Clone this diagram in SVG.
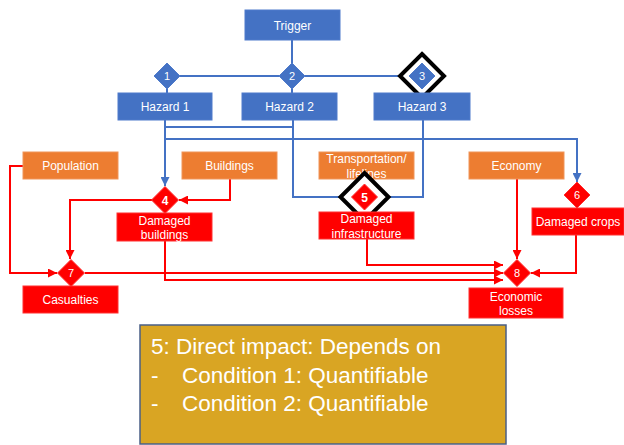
<svg xmlns="http://www.w3.org/2000/svg" width="624" height="445" viewBox="0 0 624 445">
  <defs>
    <style>
      .blue { fill: #4472C4; stroke: #4F7BCB; stroke-width: 1; }
      .orange { fill: #ED7D31; stroke: #F0955A; stroke-width: 1; }
      .red { fill: #FF0000; stroke: #FF3030; stroke-width: 1; }
      .lbl { font-family: "Liberation Sans", Arial, sans-serif; font-size: 12px; fill: #FFFFFF; text-anchor: middle; }
      .num { font-family: "Liberation Sans", Arial, sans-serif; font-size: 11px; fill: #FFFFFF; text-anchor: middle; }
      .bnum { font-family: "Liberation Sans", Arial, sans-serif; font-size: 12px; font-weight: bold; fill: #FFFFFF; text-anchor: middle; }
      .halo { fill: #FFFFFF; stroke: #000000; stroke-width: 4; }
      .bl { fill: none; stroke: #4472C4; stroke-width: 2; }
      .rl { fill: none; stroke: #FF0000; stroke-width: 2; }
      .note { font-family: "Liberation Sans", Arial, sans-serif; font-size: 22.5px; fill: #FFFFFF; }
    </style>
    <marker id="arrB" markerUnits="userSpaceOnUse" markerWidth="9" markerHeight="9" viewBox="0 0 10 10" refX="10" refY="5" orient="auto">
      <path d="M0,0 L10,5 L0,10 z" fill="#4472C4"/>
    </marker>
    <marker id="arrR" markerUnits="userSpaceOnUse" markerWidth="9" markerHeight="9" viewBox="0 0 10 10" refX="10" refY="5" orient="auto">
      <path d="M0,0 L10,5 L0,10 z" fill="#FF0000"/>
    </marker>
  </defs>

  <!-- connectors -->
  <g id="connectors">
    <path class="bl" d="M292,40 V76"/>
    <path class="bl" d="M167,76 H422"/>
    <path class="bl" d="M167,76 V93 M292,76 V93 M422,76 V93"/>
    <path class="bl" d="M165,120 V186" marker-end="url(#arrB)"/>
    <path class="bl" d="M165,127 H293"/>
    <path class="bl" d="M293,120 V197 H342"/>
    <path class="bl" d="M165,139 H577 V182" marker-end="url(#arrB)"/>
    <path class="bl" d="M423,120 V197 H387"/>

    <path class="rl" d="M23,166 H10 V273 H57" marker-end="url(#arrR)"/>
    <path class="rl" d="M230,179 V200 H179" marker-end="url(#arrR)"/>
    <path class="rl" d="M152,200 H70 V259" marker-end="url(#arrR)"/>
    <path class="rl" d="M85,273 H503" marker-end="url(#arrR)"/>
    <path class="rl" d="M165,241 V280 H503" marker-end="url(#arrR)"/>
    <path class="rl" d="M367,239 V265 H503" marker-end="url(#arrR)"/>
    <path class="rl" d="M517,179 V259" marker-end="url(#arrR)"/>
    <path class="rl" d="M576,235 V273 H531" marker-end="url(#arrR)"/>
  </g>

  <!-- hazard chain -->
  <g id="trigger">
    <rect class="blue" x="245" y="10" width="95" height="30"/>
    <text class="lbl" x="292.5" y="29.5">Trigger</text>
  </g>
  <g id="d1">
    <path class="blue" d="M167,63 L180,76 L167,89 L154,76 z"/>
    <text class="num" x="167" y="80">1</text>
  </g>
  <g id="d2">
    <path class="blue" d="M292,63 L305,76 L292,89 L279,76 z"/>
    <text class="num" x="292" y="80">2</text>
  </g>
  <g id="d3">
    <path class="halo" d="M422,54 L444,76 L422,98 L400,76 z"/>
    <path class="blue" d="M422,63 L435,76 L422,89 L409,76 z"/>
    <text class="num" x="422" y="80">3</text>
  </g>
  <g id="hazard1">
    <rect class="blue" x="118" y="93" width="94" height="27"/>
    <text class="lbl" x="165" y="111">Hazard 1</text>
  </g>
  <g id="hazard2">
    <rect class="blue" x="242" y="93" width="95" height="27"/>
    <text class="lbl" x="289.5" y="111">Hazard 2</text>
  </g>
  <g id="hazard3">
    <rect class="blue" x="374" y="93" width="96" height="27"/>
    <text class="lbl" x="422" y="111">Hazard 3</text>
  </g>

  <!-- exposure -->
  <g id="population">
    <rect class="orange" x="23" y="152" width="95" height="27"/>
    <text class="lbl" x="70.5" y="170">Population</text>
  </g>
  <g id="buildings">
    <rect class="orange" x="182" y="152" width="95" height="27"/>
    <text class="lbl" x="229.5" y="170">Buildings</text>
  </g>
  <g id="transportation">
    <rect class="orange" x="319" y="152" width="95" height="27"/>
    <text class="lbl" x="366.5" y="163">Transportation/</text>
    <text class="lbl" x="366.5" y="178">lifelines</text>
  </g>
  <g id="economy">
    <rect class="orange" x="469" y="152" width="95" height="27"/>
    <text class="lbl" x="516.5" y="170">Economy</text>
  </g>

  <!-- impacts -->
  <g id="d4">
    <path class="red" d="M165,186.5 L178.5,200 L165,213.5 L151.5,200 z"/>
    <text class="bnum" x="165" y="204.5">4</text>
  </g>
  <g id="damaged-buildings">
    <rect class="red" x="117" y="213" width="95" height="28"/>
    <text class="lbl" x="164.5" y="225">Damaged</text>
    <text class="lbl" x="164.5" y="239">buildings</text>
  </g>
  <g id="d5">
    <path class="halo" d="M364.5,173 L388.5,197 L364.5,221 L340.5,197 z"/>
    <path class="red" d="M364.5,184 L377.5,197 L364.5,210 L351.5,197 z"/>
    <text class="bnum" x="364.5" y="201.5">5</text>
  </g>
  <g id="damaged-infrastructure">
    <rect class="red" x="319" y="212" width="95" height="27"/>
    <text class="lbl" x="366.5" y="223">Damaged</text>
    <text class="lbl" x="366.5" y="238">infrastructure</text>
  </g>
  <g id="d6">
    <path class="red" d="M577,182 L590,195 L577,208 L564,195 z"/>
    <text class="num" x="577" y="199">6</text>
  </g>
  <g id="damaged-crops">
    <rect class="red" x="532" y="208" width="92" height="27"/>
    <text class="lbl" x="578" y="226">Damaged crops</text>
  </g>
  <g id="d7">
    <path class="red" d="M71,259.5 L84.5,273 L71,286.5 L57.5,273 z"/>
    <text class="num" x="71" y="277">7</text>
  </g>
  <g id="casualties">
    <rect class="red" x="23" y="286" width="95" height="27"/>
    <text class="lbl" x="70.5" y="304">Casualties</text>
  </g>
  <g id="d8">
    <path class="red" d="M517,259.5 L530.5,273 L517,286.5 L503.5,273 z"/>
    <text class="num" x="517" y="277">8</text>
  </g>
  <g id="economic-losses">
    <rect class="red" x="469" y="288" width="94" height="30"/>
    <text class="lbl" x="516" y="301">Economic</text>
    <text class="lbl" x="516" y="315">losses</text>
  </g>

  <!-- note -->
  <g id="note">
    <rect x="140" y="325" width="366" height="119" fill="#D9A523" stroke="#4A5F86" stroke-width="1.5"/>
    <text class="note" x="151" y="354">5: Direct impact: Depends on</text>
    <text class="note" x="151" y="383">-</text>
    <text class="note" x="182" y="383">Condition 1: Quantifiable</text>
    <text class="note" x="151" y="411">-</text>
    <text class="note" x="182" y="411">Condition 2: Quantifiable</text>
  </g>
</svg>
